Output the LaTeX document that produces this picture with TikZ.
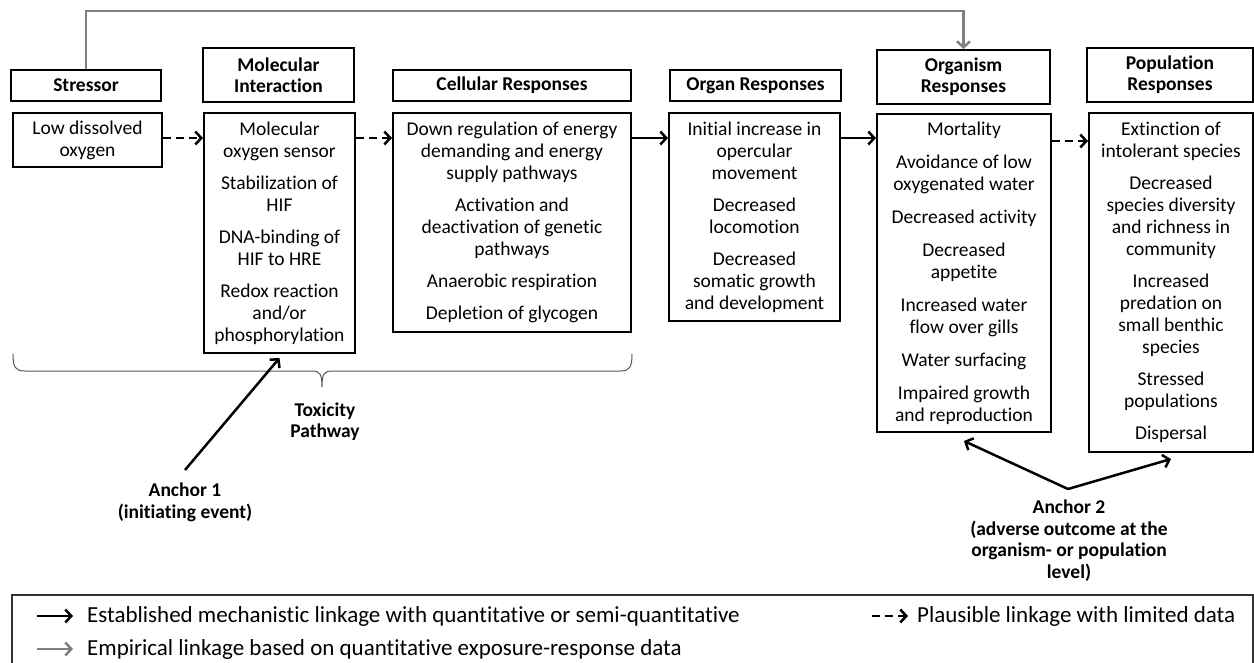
\documentclass[tikz,border=0pt]{standalone}
\usepackage{fontspec}
\setmainfont{Carlito}[Ligatures=NoCommon]
\usetikzlibrary{arrows.meta,calc}

\begin{document}
\begin{tikzpicture}[x=1pt,y=-1pt,
	hdr/.style={draw, line width=2pt, inner sep=0pt, align=center,
		font=\bfseries\fontsize{19.5}{21}\selectfont},
	resp/.style={draw, line width=2pt, inner sep=0pt, align=center,
		font=\fontsize{19.5}{22}\selectfont},
	lbl/.style={inner sep=0pt, align=center, font=\bfseries\fontsize{19.5}{21.5}\selectfont},
	legtxt/.style={inner sep=0pt, anchor=west, font=\fontsize{23}{26}\selectfont},
	arr/.style={line width=2.5pt, -{Straight Barb[length=6pt,width=13pt,line width=2.5pt]}},
	dsh/.style={arr, dash pattern=on 8pt off 5pt},
	emp/.style={arr, color=black!50}]

	\useasboundingbox (0,0) rectangle (1254,662);

	% headers
	\node[hdr, minimum width=150pt, minimum height=31pt] (stressor) at (86,85.5) {Stressor};
	\node[hdr, minimum width=151pt, minimum height=54pt] (molhead) at (278.5,75) {Molecular\\Interaction};
	\node[hdr, minimum width=238pt, minimum height=31pt] (cellhead) at (512,85.5) {Cellular Responses};
	\node[hdr, minimum width=171pt, minimum height=31pt] (organhead) at (755.5,85.5) {Organ Responses};
	\node[hdr, minimum width=173pt, minimum height=54pt] (orgmhead) at (963.5,77) {Organism\\Responses};
	\node[hdr, minimum width=166pt, minimum height=54pt] (pophead) at (1170,75) {Population\\Responses};

	% responses
	\node[resp, minimum width=149pt, minimum height=54pt] (lowdo) at (87.5,140) {Low dissolved\\oxygen};
	\node[resp, minimum width=151pt, minimum height=240pt] (molbox) at (279.5,233)
		{Molecular\\oxygen sensor\\[10pt]Stabilization of\\HIF\\[10pt]DNA-binding of\\HIF to HRE\\[10pt]Redox reaction\\and/or\\phosphorylation};
	\node[resp, minimum width=238pt, minimum height=219pt] (cellbox) at (512,222.5)
		{Down regulation of energy\\demanding and energy\\supply pathways\\[10pt]Activation and\\deactivation of genetic\\pathways\\[10pt]Anaerobic respiration\\[10pt]Depletion of glycogen};
	\node[resp, minimum width=171pt, minimum height=208pt] (organbox) at (754.5,217)
		{Initial increase in\\opercular\\movement\\[10pt]Decreased\\locomotion\\[10pt]Decreased\\somatic growth\\and development};
	\node[resp, minimum width=174pt, minimum height=318pt] (orgmbox) at (964,273)
		{Mortality\\[11pt]Avoidance of low\\oxygenated water\\[11pt]Decreased activity\\[11pt]Decreased\\appetite\\[11pt]Increased water\\flow over gills\\[11pt]Water surfacing\\[11pt]Impaired growth\\and reproduction};
	\node[resp, minimum width=164pt, minimum height=339pt] (popbox) at (1171,282.5)
		{Extinction of\\intolerant species\\[10pt]Decreased\\species diversity\\and richness in\\community\\[10pt]Increased\\predation on\\small benthic\\species\\[10pt]Stressed\\populations\\[10pt]Dispersal};

	% linkages
	\draw[dsh] (lowdo.east |- 0,138) -- (molbox.west |- 0,138);
	\draw[dsh] (molbox.east |- 0,138) -- (cellbox.west |- 0,138);
	\draw[arr] (cellbox.east |- 0,138) -- (organbox.west |- 0,138);
	\draw[arr] (organbox.east |- 0,138) -- (orgmbox.west |- 0,138);
	\draw[dsh] (orgmbox.east |- 0,141) -- (popbox.west |- 0,141);
	\draw[emp] (stressor.north) -- ++(0,-58) -| (orgmhead.north);

	% toxicity pathway brace
	\draw[line width=1pt, black!65] (13,354) .. controls (13,367) and (15,371) .. (25,371) -- (312,371)
		.. controls (320,371) and (322,374) .. (322,387)
		.. controls (322,374) and (324,371) .. (332,371) -- (620,371)
		.. controls (630,371) and (632,367) .. (632,354);
	\node[lbl] (toxpath) at (325,421.5) {Toxicity\\Pathway};

	% anchors
	\node[lbl] (anchor1) at (185,502.5) {Anchor 1\\(initiating event)};
	\coordinate (a1) at (185,470);
	\draw[arr] (a1) -- ([yshift=-4pt]molbox.south);

	\node[lbl] (anchor2) at (1069,540.5) {Anchor 2\\(adverse outcome at the\\organism- or population\\level)};
	\coordinate (a2) at (1068,489);
	\draw[arr] (a2) -- ([yshift=-8pt]orgmbox.south);
	\draw[arr] (a2) -- ([yshift=-6pt]popbox.south);

	% legend
	\draw[line width=1.5pt, black!80] (12,595) rectangle (1253,666);
	\node[legtxt] (leg1) at (87,616) {Established mechanistic linkage with quantitative or semi-quantitative};
	\node[legtxt] (leg2) at (87,649) {Empirical linkage based on quantitative exposure-response data};
	\node[legtxt] (leg3) at (917,616) {Plausible linkage with limited data};
	\draw[arr] ([xshift=-50pt]leg1.west) -- ([xshift=-14pt]leg1.west);
	\draw[emp] ([xshift=-50pt]leg2.west) -- ([xshift=-14pt]leg2.west);
	\draw[dsh] ([xshift=-45pt]leg3.west) -- ([xshift=-9pt]leg3.west);
\end{tikzpicture}
\end{document}
